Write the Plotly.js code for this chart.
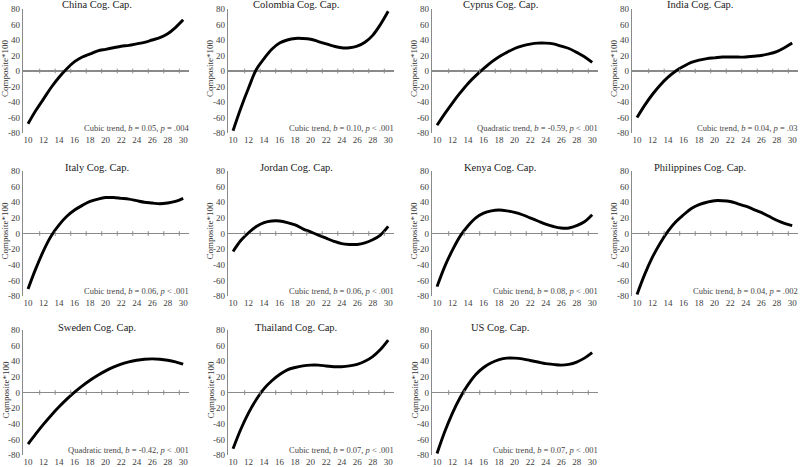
<!DOCTYPE html>
<html>
<head>
<meta charset="utf-8">
<script src="https://cdn.plot.ly/plotly-3.0.1.min.js"></script>
<style>html,body{margin:0;padding:0;background:#fff;}#chart{width:800px;height:467px;}</style>
</head>
<body>
<div id="chart"></div>
<script>
// ---- data ----
const ages = [10,11,12,13,14,15,16,17,18,19,20,21,22,23,24,25,26,27,28,29,30];
const xTickVals = [10,12,14,16,18,20,22,24,26,28,30];
const yTickVals = [-80,-60,-40,-20,0,20,40,60,80];
const yTickText = ["-80","-60","-40","-20","0","20","40","60","80"];

const countries = ["China","Colombia","Cyprus","India","Italy","Jordan","Kenya","Philippines","Sweden","Thailand","US"];

const china       = [-68,-51,-36,-21,-8,3,12,18,22,26,28,30,32,33,35,37,40,43,48,56,66];
const colombia    = [-77,-48,-22,2,16,28,36,40,42,42,41,38,35,32,30,30,32,37,46,60,77];
const cyprus      = [-70,-55,-41,-28,-16,-6,3,11.5,18.5,24,29,32.4,34.7,36,36,35,32,29,24,18.5,11];
const india       = [-60,-44,-30,-18,-8,0,6,11,14,16,17,18,18,18,18,19,20,22,25,30,36];
const italy       = [-71,-45,-22,-3,11,22,30,36,41,44,46,46,45,44,42,40,39,38,39,41,45];
const jordan      = [-23,-9,1,9,14,16,16,14,11,6,2,-2,-6,-10,-13,-14,-14,-12,-8,-2,9];
const kenya       = [-68,-42,-21,-3,10,20,26,29,30,29,27,24,20,16,12,9,7,7,10,15,24];
const philippines = [-78,-52,-30,-12,3,15,24,32,37,40,42,42,41,38,35,31,27,22,17,13,10];
const sweden      = [-66,-53,-40.5,-29,-18.3,-8.5,0.4,8.5,15.7,22,27.7,32.4,36.2,39.2,41.3,42.6,43,42.6,41.3,39.2,36.2];
const thailand    = [-72,-47,-26,-9,5,15,23,29,32,34,35,35,34,33,33,34,36,40,46,55,67];
const us          = [-78,-50,-26,-6,10,23,32,38,42,44,44,43,41,39,37,36,35,36,39,44,51];

const seriesList = [china,colombia,cyprus,india,italy,jordan,kenya,philippines,sweden,thailand,us];

const trendTexts = [
  "Cubic trend, <i>b</i> = 0.05, <i>p</i> = .004",
  "Cubic trend, <i>b</i> = 0.10, <i>p</i> &lt; .001",
  "Quadratic trend, <i>b</i> = -0.59, <i>p</i> &lt; .001",
  "Cubic trend, <i>b</i> = 0.04, <i>p</i> = .03",
  "Cubic trend, <i>b</i> = 0.06, <i>p</i> &lt; .001",
  "Cubic trend, <i>b</i> = 0.06, <i>p</i> &lt; .001",
  "Cubic trend, <i>b</i> = 0.08, <i>p</i> &lt; .001",
  "Cubic trend, <i>b</i> = 0.04, <i>p</i> = .002",
  "Quadratic trend, <i>b</i> = -0.42, <i>p</i> &lt; .001",
  "Cubic trend, <i>b</i> = 0.07, <i>p</i> &lt; .001",
  "Cubic trend, <i>b</i> = 0.07, <i>p</i> &lt; .001"
];
const yTitle = "Composite*100";

// ---- layout geometry (pixels) ----
const W = 800, H = 467;
const colLeft = [23, 228, 432, 632];
const plotW = 166;
const rowTB = [[9,133],[171,296],[330,455]];
const titleCx = [97, 296, 500, 700];
const titleY = [5, 167, 327];

const FONT = "Liberation Serif, Times New Roman, serif";
const gray = "#8a8a8a";

const data = [];
const layout = {
  width: W, height: H,
  margin: {l:0, r:0, t:0, b:0},
  paper_bgcolor: "#fff", plot_bgcolor: "rgba(0,0,0,0)",
  showlegend: false,
  font: {family: FONT, size: 9, color: "#333"},
  annotations: [], shapes: []
};

seriesList.forEach((vals, i) => {
  const r = Math.floor(i / 4), c = i % 4;
  const n = i + 1;
  const xa = n === 1 ? "x" : "x" + n;
  const ya = n === 1 ? "y" : "y" + n;
  const xKey = n === 1 ? "xaxis" : "xaxis" + n;
  const yKey = n === 1 ? "yaxis" : "yaxis" + n;

  data.push({
    x: ages, y: vals, xaxis: xa, yaxis: ya,
    type: "scatter", mode: "lines",
    line: {color: "#000", width: 2.9, shape: "spline", smoothing: 1},
    hoverinfo: "skip"
  });

  const x0 = colLeft[c] / W, x1 = (colLeft[c] + plotW) / W;
  const yb = 1 - rowTB[r][1] / H, yt = 1 - rowTB[r][0] / H;

  layout[xKey] = {
    domain: [x0, x1], anchor: ya, range: [9.35, 30.75],
    tickvals: xTickVals, ticks: "", showgrid: false, zeroline: false, showline: false,
    tickfont: {family: FONT, size: 9, color: "#404040"}, fixedrange: true
  };
  layout[yKey] = {
    domain: [yb, yt], anchor: xa, range: [-80, 80],
    tickvals: yTickVals, ticktext: yTickText, ticks: "", showgrid: false,
    zeroline: true, zerolinecolor: gray, zerolinewidth: 1.3,
    showline: true, linecolor: gray, linewidth: 1.3,
    tickfont: {family: FONT, size: 9, color: "#404040"}, fixedrange: true
  };

  // tick marks crossing the zero line
  for (let k = 0; k < 10; k++) {
    const tx = 11.5 + 2 * k;
    layout.shapes.push({type: "line", xref: xa, yref: ya, x0: tx, x1: tx, y0: -3, y1: 3,
      line: {color: gray, width: 1}});
  }

  // panel title
  layout.annotations.push({
    text: countries[i] + " Cog. Cap.", xref: "paper", yref: "paper",
    x: titleCx[c] / W, y: 1 - titleY[r] / H, xanchor: "center", yanchor: "middle",
    showarrow: false, font: {family: FONT, size: 10.5, color: "#1a1a1a"}
  });
  // y-axis title
  layout.annotations.push({
    text: yTitle, xref: "paper", yref: "paper",
    x: (colLeft[c] - 18) / W, y: 1 - ((rowTB[r][0] + rowTB[r][1]) / 2 - 3) / H,
    xanchor: "center", yanchor: "middle", textangle: -90,
    showarrow: false, font: {family: FONT, size: 9, color: "#333"}
  });
  // trend text
  layout.annotations.push({
    text: trendTexts[i], xref: xa + " domain", yref: ya,
    x: 1.01, y: -73, xanchor: "right", yanchor: "middle",
    showarrow: false, font: {family: FONT, size: 8.5, color: "#444"}
  });
});

Plotly.newPlot("chart", data, layout, {staticPlot: true, displayModeBar: false});
</script>
</body>
</html>
